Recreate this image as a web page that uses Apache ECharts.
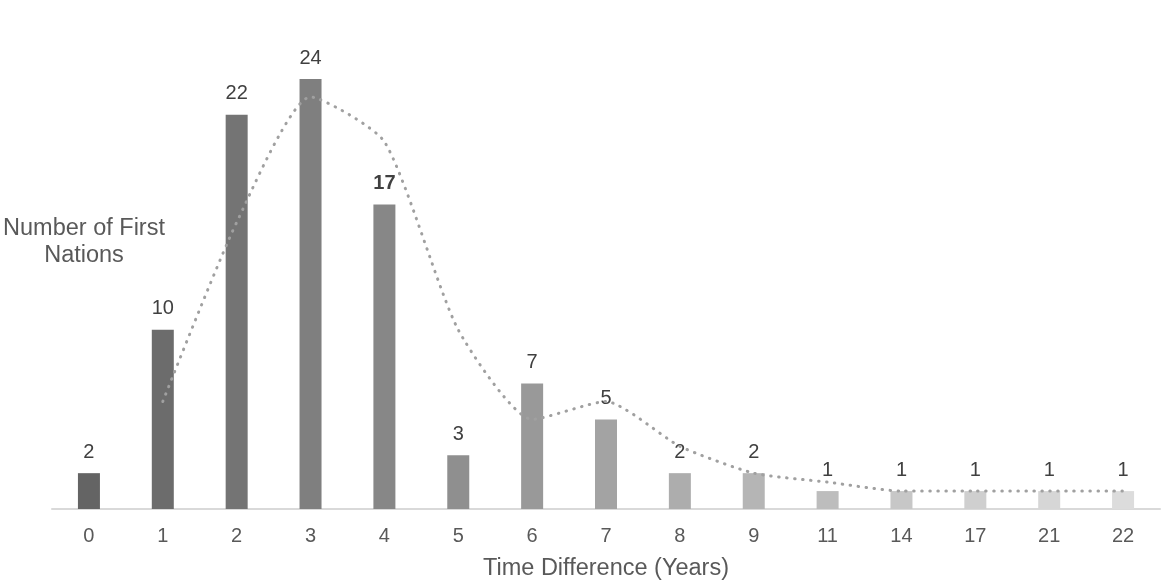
<!DOCTYPE html>
<html>
<head>
<meta charset="utf-8">
<script src="https://cdn.jsdelivr.net/npm/echarts@6/dist/echarts.min.js"></script>
<style>
html,body{margin:0;padding:0;background:#fff;}
#chart{width:1170px;height:586px;}
</style>
</head>
<body>
<div id="chart"></div>
<script>
var categories = ['0','1','2','3','4','5','6','7','8','9','11','14','17','21','22'];
var counts = [2, 10, 22, 24, 17, 3, 7, 5, 2, 2, 1, 1, 1, 1, 1];
var trend = [null, 6, 16, 23, 20.5, 10, 5, 6, 3.5, 2, 1.5, 1, 1, 1, 1];
var barColors = ['#646464','#6c6c6c','#747474','#7f7f7f','#878787','#8f8f8f','#999999','#a3a3a3','#adadad','#b5b5b5','#bdbdbd','#c7c7c7','#cfcfcf','#d6d6d6','#dcdcdc'];

var fontFam = '"Liberation Sans", Arial, sans-serif';
var chart = echarts.init(document.getElementById('chart'));
chart.setOption({
  animation: false,
  backgroundColor: '#ffffff',
  grid: { left: 52, right: 10, top: 79, bottom: 77, containLabel: false, outerBoundsMode: 'none' },
  graphic: [{
    type: 'text',
    x: 84, y: 215,
    style: {
      text: 'Number of First\nNations',
      font: '23.5px ' + fontFam,
      fill: '#595959',
      align: 'center',
      lineHeight: 27
    }
  }],
  xAxis: {
    type: 'category',
    data: categories,
    name: 'Time Difference (Years)',
    nameLocation: 'middle',
    nameGap: 48,
    nameTextStyle: { fontFamily: fontFam, fontSize: 23.5, color: '#595959' },
    axisLine: { show: true, lineStyle: { color: '#d9d9d9', width: 2 } },
    axisTick: { show: false },
    axisLabel: { fontFamily: fontFam, fontSize: 20, color: '#595959', margin: 17 },
    splitLine: { show: false }
  },
  yAxis: {
    type: 'value',
    min: 0, max: 24,
    show: false,
    splitLine: { show: false }
  },
  series: [{
    type: 'bar',
    data: counts.map(function (v, i) {
      return {
        value: v,
        itemStyle: { color: barColors[i] },
        label: i === 4 ? { fontWeight: 'bold' } : undefined
      };
    }),
    barWidth: 22,
    label: {
      show: true,
      position: 'top',
      distance: 11,
      fontFamily: fontFam,
      fontSize: 20,
      color: '#404040'
    },
    z: 2
  }, {
    type: 'line',
    data: trend,
    smooth: 0.2,
    symbol: 'none',
    connectNulls: false,
    lineStyle: { color: '#a0a0a0', width: 3, type: [0.5, 7.5], cap: 'round' },
    z: 3
  }]
});
</script>
</body>
</html>
